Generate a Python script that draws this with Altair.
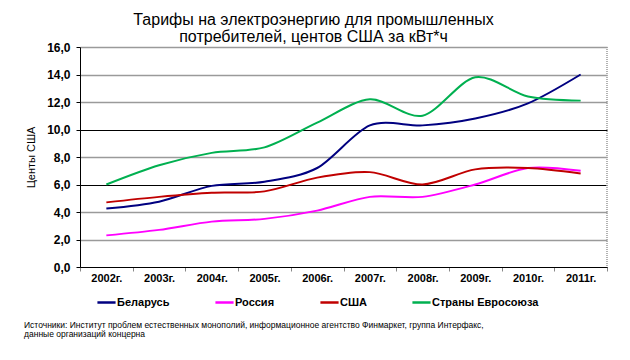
import altair as alt
import pandas as pd

years = ["2002г.", "2003г.", "2004г.", "2005г.", "2006г.", "2007г.", "2008г.", "2009г.", "2010г.", "2011г."]
series_names = ["Беларусь", "Россия", "США", "Страны Евросоюза"]
belarus = [4.25, 4.75, 5.9, 6.2, 7.2, 10.3, 10.3, 10.8, 11.9, 14.0]
russia = [2.3, 2.7, 3.3, 3.5, 4.1, 5.1, 5.1, 6.0, 7.2, 7.0]
usa = [4.7, 5.1, 5.4, 5.5, 6.5, 6.9, 6.0, 7.1, 7.2, 6.8]
eu = [6.0, 7.4, 8.3, 8.7, 10.5, 12.2, 11.0, 13.8, 12.4, 12.1]
colors = ["#000080", "#FF00FF", "#C00000", "#00B050"]
title_lines = ["Тарифы на электроэнергию для промышленных", "потребителей, центов США за кВт*ч"]
y_title = "Центы США"
source_lines = [
    "Источники: Институт проблем естественных монополий, информационное агентство Финмаркет, группа Интерфакс,",
    "данные организаций концерна",
]

rows = []
for name, vals in zip(series_names, [belarus, russia, usa, eu]):
    for yr, v in zip(years, vals):
        rows.append({"year": yr, "series": name, "value": v})
df = pd.DataFrame(rows)

FONT = "Liberation Sans"
SOLID = "datum.value == 6 || datum.value == 10 || datum.value == 0"

lines = alt.Chart(df).mark_line(interpolate="cardinal", tension=0.1, strokeWidth=2).encode(
    x=alt.X("year:N", sort=years, title=None,
            scale=alt.Scale(paddingInner=0, paddingOuter=0),
            axis=alt.Axis(labelAngle=0, labelFont=FONT, labelFontSize=11, labelFontWeight="bold",
                          labelColor="black", domainColor="black", tickColor="#888",
                          tickBand="extent", tickSize=4, labelPadding=1, grid=False)),
    y=alt.Y("value:Q", title=y_title,
            scale=alt.Scale(domain=[0, 16], nice=False),
            axis=alt.Axis(values=[0, 2, 4, 6, 8, 10, 12, 14, 16],
                          labelExpr="replace(format(datum.value, '.1f'), '.', ',')",
                          labelFont=FONT, labelFontSize=12, labelFontWeight="bold", labelColor="black",
                          titleFont=FONT, titleFontSize=11, titleFontWeight="normal", titleColor="black",
                          titlePadding=10,
                          domainColor="black", tickColor="black", tickSize=4, labelPadding=6,
                          grid=True,
                          gridColor={"condition": {"test": SOLID, "value": "black"}, "value": "#9a9a9a"},
                          gridWidth={"condition": {"test": SOLID, "value": 1}, "value": 1.6})),
    color=alt.Color("series:N", sort=series_names, title=None,
                    scale=alt.Scale(domain=series_names, range=colors),
                    legend=alt.Legend(orient="none", legendX=16, legendY=245, direction="horizontal",
                                      columns=4, gridAlign="none",
                                      symbolType="stroke", symbolSize=330, symbolStrokeWidth=2.5,
                                      labelFont=FONT, labelFontSize=11, labelFontWeight="bold",
                                      labelColor="black", labelOffset=0, columnPadding=40)),
)

border = alt.Chart(pd.DataFrame({"v": [0]})).mark_rule(color="#999", strokeDash=[1, 1], strokeWidth=1.5).encode(
    x=alt.value(527), y=alt.value(0), y2=alt.value(220)
)

src = pd.DataFrame({"t": source_lines, "i": [0, 1]})
source = alt.Chart(src).mark_text(align="left", baseline="middle", font=FONT, fontSize=8.5, color="black").encode(
    x=alt.value(-56),
    y=alt.Y("i:Q", axis=None, scale=alt.Scale(domain=[0, 1], range=[278, 287])),
    text="t:N",
)

chart = alt.layer(lines, border, source).resolve_scale(y="independent").properties(
    width=527, height=220,
    padding={"left": 72, "top": 39, "right": 15, "bottom": 85},
    autosize=alt.AutoSizeParams(type="none"),
    title=alt.TitleParams(title_lines, font=FONT, fontSize=16, fontWeight="normal", color="black",
                          anchor="middle", dx=-30, dy=8, offset=4, lineHeight=17),
).configure_view(stroke=None)

chart.save("out.html", embed_options={"renderer": "svg", "actions": False})
